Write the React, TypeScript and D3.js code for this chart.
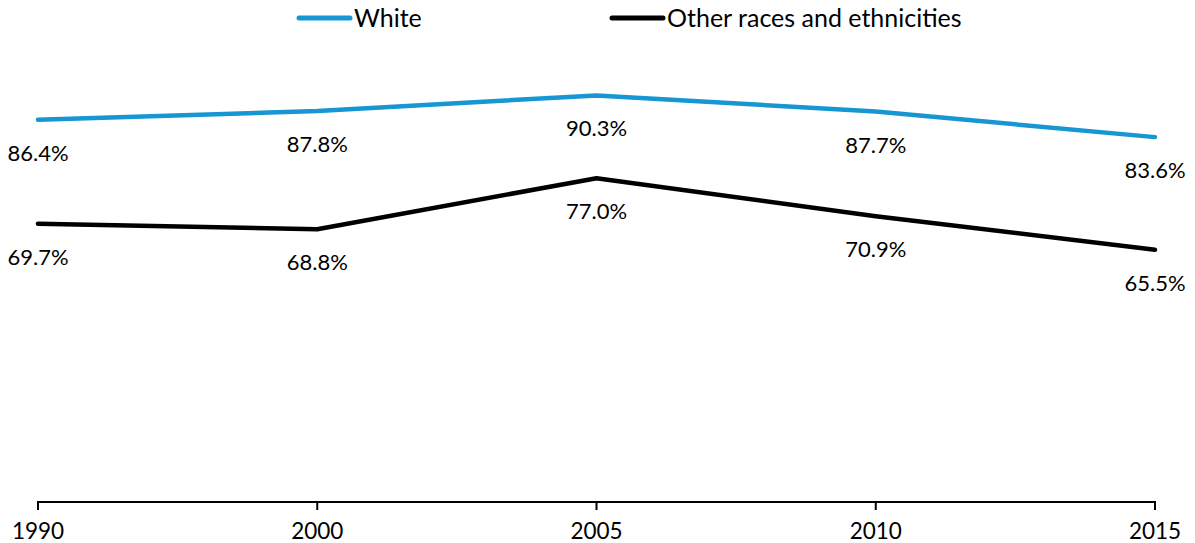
import React, { useEffect, useRef } from 'react';
import * as d3 from 'd3';

const years = ['1990', '2000', '2005', '2010', '2015'];
const whiteValues = [86.4, 87.8, 90.3, 87.7, 83.6];
const otherValues = [69.7, 68.8, 77.0, 70.9, 65.5];
const seriesNames = ['White', 'Other races and ethnicities'];
const seriesColors = ['#1696d2', '#000000'];

const App: React.FC = () => {
  const svgRef = useRef<SVGSVGElement>(null);

  useEffect(() => {
    if (!svgRef.current) return;
    const width = 1195;
    const height = 543;
    const font = 'Lato, sans-serif';

    const svg = d3.select(svgRef.current);
    svg.selectAll('*').remove();

    const x = d3.scalePoint<string>().domain(years).range([38, 1155]).padding(0);
    const y = d3.scaleLinear().domain([25, 100]).range([502, 35]);

    // x axis
    const axis = svg.append('g').attr('transform', `translate(0,502)`);
    axis.append('line')
      .attr('x1', 38).attr('x2', 1155)
      .attr('stroke', '#000').attr('stroke-width', 2);
    axis.selectAll('line.tick')
      .data(years)
      .join('line')
      .attr('class', 'tick')
      .attr('x1', d => x(d)!).attr('x2', d => x(d)!)
      .attr('y1', -1).attr('y2', 8)
      .attr('stroke', '#000').attr('stroke-width', 2);
    axis.selectAll('text')
      .data(years)
      .join('text')
      .attr('x', d => x(d)!)
      .attr('y', 37)
      .attr('text-anchor', 'middle')
      .attr('font-family', font)
      .attr('font-size', 22.5)
      .attr('fill', '#000')
      .text(d => d);

    const series = [whiteValues, otherValues];
    const line = d3.line<number>()
      .x((_, i) => x(years[i])!)
      .y(d => y(d));

    series.forEach((vals, si) => {
      svg.append('path')
        .datum(vals)
        .attr('d', line)
        .attr('fill', 'none')
        .attr('stroke', seriesColors[si])
        .attr('stroke-width', 4.5)
        .attr('stroke-linecap', 'round')
        .attr('stroke-linejoin', 'round');

      svg.append('g').selectAll('text')
        .data(vals)
        .join('text')
        .attr('x', (_, i) => x(years[i])!)
        .attr('y', d => y(d) + 41)
        .attr('text-anchor', 'middle')
        .attr('font-family', font)
        .attr('font-size', 22)
        .attr('fill', '#000')
        .text(d => `${d.toFixed(1)}%`);
    });

    // legend
    const legendX = [297, 610];
    seriesNames.forEach((name, i) => {
      const g = svg.append('g').attr('transform', `translate(${legendX[i]},18)`);
      g.append('line')
        .attr('x1', 2).attr('x2', 53)
        .attr('stroke', seriesColors[i])
        .attr('stroke-width', 5)
        .attr('stroke-linecap', 'round');
      g.append('text')
        .attr('x', 57)
        .attr('y', 9)
        .attr('font-family', font)
        .attr('font-size', 25)
        .attr('fill', '#000')
        .text(name);
    });

    svg.attr('width', width).attr('height', height);
  }, []);

  return (
    <svg
      ref={svgRef}
      style={{ position: 'absolute', left: 0, top: 0, display: 'block', background: '#fff' }}
    />
  );
};

export default App;
